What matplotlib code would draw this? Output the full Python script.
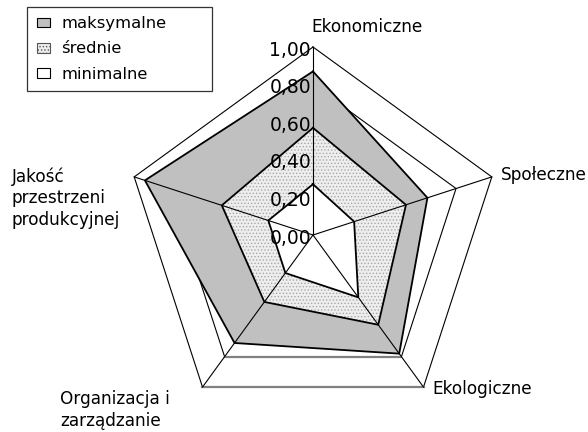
import numpy as np
import matplotlib.pyplot as plt
from matplotlib.patches import Patch

# categories clockwise from the top
categories = ['Ekonomiczne', 'Społeczne', 'Ekologiczne',
              'Organizacja i\nzarządzanie', 'Jakość\nprzestrzeni\nprodukcyjnej']
maksymalne = [0.87, 0.64, 0.78, 0.71, 0.94]
srednie = [0.57, 0.52, 0.59, 0.44, 0.51]
minimalne = [0.27, 0.23, 0.41, 0.25, 0.25]
ticks = [0.0, 0.2, 0.4, 0.6, 0.8, 1.0]
tick_labels = ['0,00', '0,20', '0,40', '0,60', '0,80', '1,00']
series_names = ['maksymalne', 'średnie', 'minimalne']

plt.rcParams['font.family'] = ['DejaVu Sans']
plt.rcParams['hatch.linewidth'] = 0.6

W, H = 588, 432
cx, cy, R = 313, 235, 188   # centre and radius in pixels

angles = np.deg2rad(90 - 72 * np.arange(len(categories)))


def to_xy(vals):
    r = np.append(vals, vals[0])
    a = np.append(angles, angles[0])
    return r * np.cos(a), r * np.sin(a)


fig = plt.figure(figsize=(W / 100, H / 100), dpi=100)
ax = fig.add_axes([0, 0, 1, 1])
ax.set_xlim(-cx / R, (W - cx) / R)
ax.set_ylim(-(H - cy) / R, cy / R)
ax.axis('off')

# grid pentagons (hidden under the fills where covered)
for t in ticks[1:]:
    gx, gy = to_xy([t] * len(categories))
    ax.plot(gx, gy, color='black', lw=0.8, zorder=1)
    # bottom edge looks grey and a bit thicker in the original
    ax.plot(gx[2:4], gy[2:4], color='#808080', lw=1.6, zorder=1.1)

# series
x, y = to_xy(maksymalne)
ax.fill(x, y, facecolor='#c0c0c0', edgecolor='none', zorder=2)
ax.plot(x, y, color='black', lw=1.3, zorder=2.1)

x, y = to_xy(srednie)
ax.fill(x, y, facecolor='#eeeeee', edgecolor='#a8a8a8', hatch='.....',
        linewidth=0, zorder=3)
ax.plot(x, y, color='black', lw=1.3, zorder=3.1)

x, y = to_xy(minimalne)
ax.fill(x, y, facecolor='white', edgecolor='none', zorder=4)
ax.plot(x, y, color='black', lw=1.3, zorder=4.1)

# spokes on top
for a in angles:
    ax.plot([0, np.cos(a)], [0, np.sin(a)], color='black', lw=0.8, zorder=5)

# value axis labels
for t, lab in zip(ticks, tick_labels):
    ax.text(-0.01, t - 3 / R, lab, ha='right', va='center', fontsize=13.5, zorder=6)

# category labels (pixel positions from the top-left)
label_pos = [(311, 27), (501, 175), (432, 389), (60, 410), (12, 198)]
for lab, (px, py) in zip(categories, label_pos):
    fig.text(px / W, 1 - py / H, lab, ha='left', va='center', fontsize=12.2,
             linespacing=1.25)

handles = [
    Patch(facecolor='#c0c0c0', edgecolor='black', lw=0.8),
    Patch(facecolor='#eeeeee', edgecolor='#555555', hatch='.....', lw=0.8),
    Patch(facecolor='white', edgecolor='black', lw=0.8),
]
leg = fig.legend(handles, series_names, loc='upper left', mode='expand',
                 bbox_to_anchor=(27 / W, 0.5, 185 / W, 0.5 - 6.5 / H), fontsize=11.8,
                 frameon=True, fancybox=False, handlelength=0.8,
                 handleheight=0.55, handletextpad=0.7, labelspacing=0.62,
                 borderaxespad=0, borderpad=0.6)
leg.get_frame().set_edgecolor('black')
leg.get_frame().set_linewidth(0.9)

fig.savefig('out.png', dpi=100)
